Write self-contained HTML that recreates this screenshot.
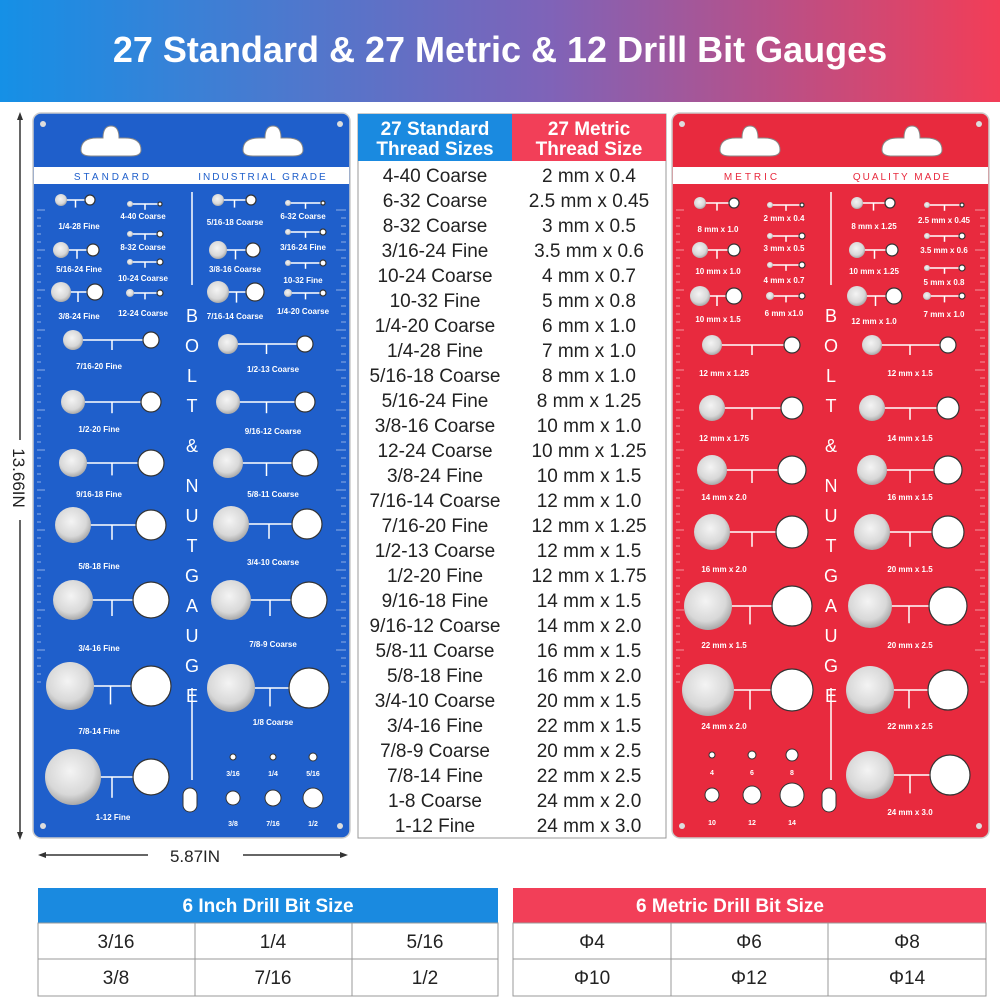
<!DOCTYPE html>
<html><head><meta charset="utf-8"><style>
body{margin:0;width:1000px;height:1000px;background:#fff;overflow:hidden;font-family:"Liberation Sans",sans-serif}
</style></head><body>
<svg id="s" width="1000" height="1000" xmlns="http://www.w3.org/2000/svg" font-family="Liberation Sans, sans-serif">
<defs>
<linearGradient id="hg" x1="0" x2="1"><stop offset="0" stop-color="#1590e6"/><stop offset="0.55" stop-color="#7f63b8"/><stop offset="1" stop-color="#f23d57"/></linearGradient>
<radialGradient id="sil" cx="0.45" cy="0.4" r="0.6"><stop offset="0" stop-color="#f4f4f4"/><stop offset="0.7" stop-color="#d8d8d8"/><stop offset="1" stop-color="#a9a9a9"/></radialGradient>
</defs>
<rect x="0" y="0" width="1000" height="102" fill="url(#hg)"/>
<text x="500" y="62" text-anchor="middle" font-size="36" font-weight="bold" fill="#fff">27 Standard &amp; 27 Metric &amp; 12 Drill Bit Gauges</text>
<!-- dimension lines -->
<line x1="20" y1="116" x2="20" y2="836" stroke="#333" stroke-width="1.5"/>
<polygon points="20,112 17,120 23,120" fill="#333"/><polygon points="20,840 17,832 23,832" fill="#333"/>
<rect x="10" y="440" width="20" height="80" fill="#fff"/>
<text transform="translate(13,478) rotate(90)" text-anchor="middle" font-size="17" fill="#222">13.66IN</text>
<line x1="42" y1="855" x2="344" y2="855" stroke="#333" stroke-width="1.5"/>
<polygon points="38,855 46,852 46,858" fill="#333"/><polygon points="348,855 340,852 340,858" fill="#333"/>
<rect x="148" y="845" width="95" height="20" fill="#fff"/>
<text x="195" y="862" text-anchor="middle" font-size="17" fill="#222">5.87IN</text>
<g id="boards"></g>
<!-- middle table -->
<rect x="358" y="114" width="308" height="724" fill="#fff" stroke="#999" stroke-width="1"/>
<rect x="358" y="114" width="154" height="47" fill="#1a8ae0"/>
<rect x="512" y="114" width="154" height="47" fill="#f23f58"/>
<text x="435" y="135" text-anchor="middle" font-size="19" font-weight="bold" fill="#fff">27 Standard</text>
<text x="435" y="155" text-anchor="middle" font-size="19" font-weight="bold" fill="#fff">Thread Sizes</text>
<text x="589" y="135" text-anchor="middle" font-size="19" font-weight="bold" fill="#fff">27 Metric</text>
<text x="589" y="155" text-anchor="middle" font-size="19" font-weight="bold" fill="#fff">Thread Size</text>
<g id="rows" font-size="19" fill="#222" text-anchor="middle"></g>
<!-- bottom tables -->
<g font-size="19" fill="#222" text-anchor="middle">
<rect x="38" y="888" width="460" height="35" fill="#1a8ae0"/>
<text x="268" y="912" fill="#fff" font-weight="bold" font-size="19">6 Inch Drill Bit Size</text>
<rect x="38" y="923" width="460" height="73" fill="#fff" stroke="#999"/>
<line x1="38" y1="959" x2="498" y2="959" stroke="#999"/>
<line x1="195" y1="923" x2="195" y2="996" stroke="#999"/><line x1="352" y1="923" x2="352" y2="996" stroke="#999"/>
<text x="116" y="948">3/16</text><text x="273" y="948">1/4</text><text x="425" y="948">5/16</text>
<text x="116" y="984">3/8</text><text x="273" y="984">7/16</text><text x="425" y="984">1/2</text>
<rect x="513" y="888" width="473" height="35" fill="#f23f58"/>
<text x="730" y="912" fill="#fff" font-weight="bold" font-size="19">6 Metric Drill Bit Size</text>
<rect x="513" y="923" width="473" height="73" fill="#fff" stroke="#999"/>
<line x1="513" y1="959" x2="986" y2="959" stroke="#999"/>
<line x1="671" y1="923" x2="671" y2="996" stroke="#999"/><line x1="828" y1="923" x2="828" y2="996" stroke="#999"/>
<text x="592" y="948">Φ4</text><text x="749" y="948">Φ6</text><text x="907" y="948">Φ8</text>
<text x="592" y="984">Φ10</text><text x="749" y="984">Φ12</text><text x="907" y="984">Φ14</text>
</g>
</svg>
<script>
var NS="http://www.w3.org/2000/svg";
function el(p,t,a,txt){var e=document.createElementNS(NS,t);for(var k in a)e.setAttribute(k,a[k]);if(txt!=null)e.textContent=txt;p.appendChild(e);return e;}
var std=["4-40 Coarse","6-32 Coarse","8-32 Coarse","3/16-24 Fine","10-24 Coarse","10-32 Fine","1/4-20 Coarse","1/4-28 Fine","5/16-18 Coarse","5/16-24 Fine","3/8-16 Coarse","12-24 Coarse","3/8-24 Fine","7/16-14 Coarse","7/16-20 Fine","1/2-13 Coarse","1/2-20 Fine","9/16-18 Fine","9/16-12 Coarse","5/8-11 Coarse","5/8-18 Fine","3/4-10 Coarse","3/4-16 Fine","7/8-9 Coarse","7/8-14 Fine","1-8 Coarse","1-12 Fine"];
var met=["2 mm x 0.4","2.5 mm x 0.45","3 mm x 0.5","3.5 mm x 0.6","4 mm x 0.7","5 mm x 0.8","6 mm x 1.0","7 mm x 1.0","8 mm x 1.0","8 mm x 1.25","10 mm x 1.0","10 mm x 1.25","10 mm x 1.5","12 mm x 1.0","12 mm x 1.25","12 mm x 1.5","12 mm x 1.75","14 mm x 1.5","14 mm x 2.0","16 mm x 1.5","16 mm x 2.0","20 mm x 1.5","22 mm x 1.5","20 mm x 2.5","22 mm x 2.5","24 mm x 2.0","24 mm x 3.0"];
var R=document.getElementById("rows");
for(var i=0;i<27;i++){var y=182+i*25;el(R,"text",{x:435,y:y},std[i]);el(R,"text",{x:589,y:y},met[i]);}
var B=document.getElementById("boards");
function board(x0,col,l1,l2,lefts,rights,smallL,smallR,drill,metric){
 var g=el(B,"g",{});
 el(g,"rect",{x:x0,y:113,width:317,height:725,rx:8,fill:col,stroke:"#ccc","stroke-width":1.5});
 // hang holes
 [x0+78,x0+240].forEach(function(cx){el(g,"path",{d:"M"+(cx-30)+",150 q0,-12 16,-12 h6 q0,-12 8,-12 q8,0 8,12 h6 q16,0 16,12 q0,6 -10,6 h-40 q-10,0 -10,-6z",fill:"#fff",stroke:"#888"});});
 [[x0+10,124],[x0+307,124],[x0+10,826],[x0+307,826]].forEach(function(p){el(g,"circle",{cx:p[0],cy:p[1],r:3,fill:"#ddd"});});
 el(g,"rect",{x:x0+1,y:167,width:315,height:17,fill:"#fff"});
 el(g,"text",{x:x0+80,y:180,"text-anchor":"middle","font-size":10,fill:col,"letter-spacing":3},l1);
 el(g,"text",{x:x0+230,y:180,"text-anchor":"middle","font-size":10,fill:col,"letter-spacing":2},l2);
 el(g,"line",{x1:x0+159,y1:192,x2:x0+159,y2:285,stroke:"#fff","stroke-width":1.5});
 el(g,"line",{x1:x0+159,y1:688,x2:x0+159,y2:780,stroke:"#fff","stroke-width":1.5});
 "BOLT&NUTGAUGE".split("").forEach(function(c,k){var yy=[318,350,382,414,450,490,522,554,578,610,642,674][k];});
 var letters=[["B",322],["O",352],["L",382],["T",412],["&",452],["N",492],["U",522],["T",552],["G",582],["A",612],["U",642],["G",672],["E",702]];
 letters.forEach(function(p){el(g,"text",{x:x0+159,y:p[1],"text-anchor":"middle","font-size":18,fill:"#fff"},p[0]);});
 // ruler ticks
 for(var t=0;t<60;t++){el(g,"line",{x1:x0+4,y1:210+t*8,x2:x0+(t%5?8:12),y2:210+t*8,stroke:"#fff","stroke-width":0.7,opacity:0.7});
  el(g,"line",{x1:x0+313,y1:210+t*8,x2:x0+(t%5?308:303),y2:210+t*8,stroke:"#fff","stroke-width":0.7,opacity:0.7});}
 function gauge(cx,cy,r,hx,hr,lab,lx,ly){
  el(g,"line",{x1:cx,y1:cy,x2:hx,y2:cy,stroke:"#fff","stroke-width":1.5});
  var m=(cx+hx)/2;el(g,"line",{x1:m,y1:cy,x2:m,y2:cy+r*0.6+4,stroke:"#fff","stroke-width":1.5});
  el(g,"circle",{cx:cx,cy:cy,r:r,fill:"url(#sil)"});
  el(g,"circle",{cx:hx,cy:cy,r:hr,fill:"#fff",stroke:"#333","stroke-width":1.2});
  el(g,"text",{x:lx,y:ly,"text-anchor":"middle","font-size":8,fill:"#fff","font-weight":"bold"},lab);
 }
 smallL.forEach(function(a){gauge(x0+a[0],a[1],a[2],x0+a[3],a[4],a[5],x0+a[6],a[7]);});
 smallR.forEach(function(a){gauge(x0+a[0],a[1],a[2],x0+a[3],a[4],a[5],x0+a[6],a[7]);});
 lefts.forEach(function(a){gauge(x0+a[0],a[1],a[2],x0+a[3],a[4],a[5],x0+a[6],a[7]);});
 rights.forEach(function(a){gauge(x0+a[0],a[1],a[2],x0+a[3],a[4],a[5],x0+a[6],a[7]);});
 drill.forEach(function(d){el(g,"circle",{cx:x0+d[0],cy:d[1],r:d[2],fill:"#fff",stroke:"#333"});el(g,"text",{x:x0+d[0],y:d[4],"text-anchor":"middle","font-size":7,fill:"#fff","font-weight":"bold"},d[3]);});
 el(g,"rect",{x:x0+150,y:788,width:14,height:24,rx:7,fill:"#fff",stroke:"#333"});
}
board(33,"#1f5fcb","STANDARD","INDUSTRIAL GRADE",
 [[40,340,10,118,8,"7/16-20 Fine",66,369],[40,402,12,118,10,"1/2-20 Fine",66,432],[40,463,14,118,13,"9/16-18 Fine",66,497],[40,525,18,118,15,"5/8-18 Fine",66,569],[40,600,20,118,18,"3/4-16 Fine",66,651],[37,686,24,118,20,"7/8-14 Fine",66,734],[40,777,28,118,18,"1-12 Fine",80,820]],
 [[195,344,10,272,8,"1/2-13 Coarse",240,372],[195,402,12,272,10,"9/16-12 Coarse",240,434],[195,463,15,272,13,"5/8-11 Coarse",240,497],[198,524,18,274,15,"3/4-10 Coarse",240,565],[198,600,20,276,18,"3/4-10",-999,-999],[198,688,24,276,20,"1/8 Coarse",240,725]],
 [[28,200,6,57,5,"1/4-28 Fine",46,229],[28,250,8,60,6,"5/16-24 Fine",46,272],[28,292,10,62,8,"3/8-24 Fine",46,319],[97,204,3,127,2,"4-40 Coarse",110,219],[97,234,3,127,3,"8-32 Coarse",110,250],[97,262,3,127,3,"10-24 Coarse",110,281],[97,293,4,127,3,"12-24 Coarse",110,316]],
 [[185,200,6,218,5,"5/16-18 Coarse",202,225],[185,250,9,220,7,"3/8-16 Coarse",202,272],[185,292,11,222,9,"7/16-14 Coarse",202,319],[255,203,3,290,2,"6-32 Coarse",270,219],[255,232,3,290,3,"3/16-24 Fine",270,250],[255,263,3,290,3,"10-32 Fine",270,283],[255,293,4,290,3,"1/4-20 Coarse",270,314]],
 [[200,757,3,"3/16",776],[240,757,3,"1/4",776],[280,757,4,"5/16",776],[200,798,7,"3/8",826],[240,798,8,"7/16",826],[280,798,10,"1/2",826]]);
// fix bad 7/8-9 label
(function(){var g=B.lastChild;el(g,"text",{x:273,y:647,"text-anchor":"middle","font-size":8,fill:"#fff","font-weight":"bold"},"7/8-9 Coarse");})();
board(672,"#e82a3e","METRIC","QUALITY MADE",
 [[40,345,10,120,8,"12 mm x 1.25",52,376],[40,408,13,120,11,"12 mm x 1.75",52,441],[40,470,15,120,14,"14 mm x 2.0",52,500],[40,532,18,120,16,"16 mm x 2.0",52,572],[36,606,24,120,20,"22 mm x 1.5",52,648],[36,690,26,120,21,"24 mm x 2.0",52,729]],
 [[200,345,10,276,8,"12 mm x 1.5",238,376],[200,408,13,276,11,"14 mm x 1.5",238,441],[200,470,15,276,14,"16 mm x 1.5",238,500],[200,532,18,276,16,"20 mm x 1.5",238,572],[198,606,22,276,19,"20 mm x 2.5",238,648],[198,690,24,276,20,"22 mm x 2.5",238,729],[198,775,24,278,20,"24 mm x 3.0",238,815]],
 [[28,203,6,62,5,"8 mm x 1.0",46,232],[28,250,8,62,6,"10 mm x 1.0",46,274],[28,296,10,62,8,"10 mm x 1.5",46,322],[98,205,3,130,2,"2 mm x 0.4",112,221],[98,236,3,130,3,"3 mm x 0.5",112,251],[98,265,3,130,3,"4 mm x 0.7",112,283],[98,296,4,130,3,"6 mm x1.0",112,316]],
 [[185,203,6,218,5,"8 mm x 1.25",202,229],[185,250,8,220,6,"10 mm x 1.25",202,274],[185,296,10,222,8,"12 mm x 1.0",202,324],[255,205,3,290,2,"2.5 mm x 0.45",272,223],[255,236,3,290,3,"3.5 mm x 0.6",272,253],[255,268,3,290,3,"5 mm x 0.8",272,285],[255,296,4,290,3,"7 mm x 1.0",272,317]],
 [[40,755,3,"4",775],[80,755,4,"6",775],[120,755,6,"8",775],[40,795,7,"10",825],[80,795,9,"12",825],[120,795,12,"14",825]]);
</script>
</body></html>
